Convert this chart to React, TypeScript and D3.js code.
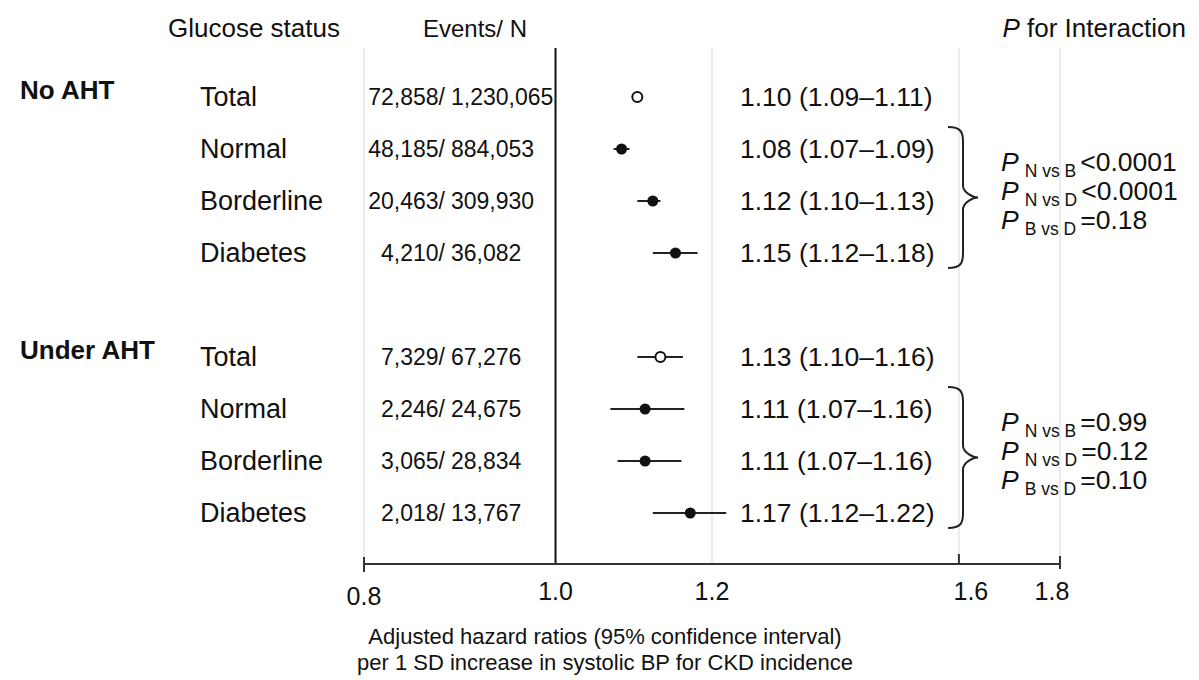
import React from "react";
import * as d3 from "d3";

const groupLabels = ["No AHT", "Under AHT"];
const statusLabels = ["Total", "Normal", "Borderline", "Diabetes"];
const events = [72858, 48185, 20463, 4210, 7329, 2246, 3065, 2018];
const totals = [1230065, 884053, 309930, 36082, 67276, 24675, 28834, 13767];
const hr = [1.1, 1.08, 1.12, 1.15, 1.13, 1.11, 1.11, 1.17];
const lo = [1.095, 1.07, 1.1, 1.12, 1.1, 1.066, 1.075, 1.12];
const hi = [1.105, 1.09, 1.13, 1.18, 1.16, 1.162, 1.158, 1.22];
const ciLabels = [
  "1.10 (1.09\u20131.11)",
  "1.08 (1.07\u20131.09)",
  "1.12 (1.10\u20131.13)",
  "1.15 (1.12\u20131.18)",
  "1.13 (1.10\u20131.16)",
  "1.11 (1.07\u20131.16)",
  "1.11 (1.07\u20131.16)",
  "1.17 (1.12\u20131.22)",
];
const pSubs = ["N vs B", "N vs D", "B vs D"];
const pValues = [
  ["<0.0001", "<0.0001", "=0.18"],
  ["=0.99", "=0.12", "=0.10"],
];
const xTicks = [0.8, 1.0, 1.2, 1.6, 1.8];
const gridTicks = [0.8, 1.2, 1.6, 1.8];

const FONT = "'Liberation Sans', Arial, Helvetica, sans-serif";

export default function App() {
  const W = 1199;
  const H = 680;
  const x = d3.scaleLog().domain([0.8, 1.8]).range([364, 1060]);
  const slots = d3.range(9);
  const y = d3.scalePoint<number>().domain(slots).range([97, 513]);
  const rowSlot = (i: number) => (i < 4 ? i : i + 1);
  const rowY = (i: number) => y(rowSlot(i)) as number;
  const axisY = 564;
  const topY = 48;
  const fmt = d3.format(",");
  const tickDx = (t: number) => (t === 1.6 ? 12 : t === 1.8 ? -8 : 0);

  const brace = (y0: number, y1: number) => {
    const x0 = 948, x1 = 963, xt = 978;
    const ym = (y0 + y1) / 2;
    return `M${x0},${y0} C${x1 - 2},${y0} ${x1},${y0 + 5} ${x1},${y0 + 15} L${x1},${ym - 12} C${x1},${ym - 5} ${xt - 5},${ym} ${xt},${ym} C${xt - 5},${ym} ${x1},${ym + 5} ${x1},${ym + 12} L${x1},${y1 - 15} C${x1},${y1 - 5} ${x1 - 2},${y1} ${x0},${y1}`;
  };

  return (
    <svg
      width={W}
      height={H}
      style={{ position: "absolute", left: 0, top: 0, background: "#fff" }}
      fontFamily={FONT}
    >
      <rect width={W} height={H} fill="#fff" />
      {gridTicks.map((t) => (
        <line key={t} x1={x(t)} x2={x(t)} y1={topY} y2={axisY} stroke="#e4e4e4" strokeWidth={1.5} />
      ))}
      <line x1={x(1)} x2={x(1)} y1={topY} y2={axisY} stroke="#111" strokeWidth={2} />

      <text x={168} y={37} fontSize={26} fill="#111">Glucose status</text>
      <text x={475} y={37} fontSize={24} fill="#111" textAnchor="middle">Events/ N</text>
      <text x={1186} y={37} fontSize={26} fill="#111" textAnchor="end">
        <tspan fontStyle="italic">P</tspan> for Interaction
      </text>

      {groupLabels.map((g, gi) => (
        <text key={g} x={20} y={rowY(gi * 4) + 2} fontSize={26} fontWeight="bold" fill="#111">{g}</text>
      ))}

      {hr.map((v, i) => {
        const yy = rowY(i);
        const open = i % 4 === 0;
        return (
          <g key={i}>
            <text x={200} y={yy + 9} fontSize={27} fill="#111">{statusLabels[i % 4]}</text>
            <text x={445} y={yy + 8} fontSize={23} fill="#111" textAnchor="end">{fmt(events[i])}/</text>
            <text x={451} y={yy + 8} fontSize={23} fill="#111">{fmt(totals[i])}</text>
            <line x1={x(lo[i])} x2={x(hi[i])} y1={yy} y2={yy} stroke="#222" strokeWidth={2} />
            {open ? (
              <circle cx={x(v)} cy={yy} r={5} fill="#fff" stroke="#111" strokeWidth={2} />
            ) : (
              <circle cx={x(v)} cy={yy} r={5.5} fill="#111" />
            )}
            <text x={740} y={yy + 9} fontSize={26.5} fill="#111">{ciLabels[i]}</text>
          </g>
        );
      })}

      {pValues.map((vals, gi) => {
        const yN = rowY(gi * 4 + 1);
        const yD = rowY(gi * 4 + 3);
        const y0 = yN - 22;
        const y1 = yD + 15;
        const ym = (y0 + y1) / 2;
        return (
          <g key={gi}>
            <path d={brace(y0, y1)} fill="none" stroke="#222" strokeWidth={2} />
            {vals.map((pv, k) => (
              <text key={k} x={1001} y={ym + 2 + (k - 1) * 29} fontSize={26.5} fill="#111">
                <tspan fontStyle="italic">P</tspan>
                <tspan dx={6} dy={6} fontSize={17.5}>{pSubs[k]}</tspan>
                <tspan dx={4} dy={-6}>{pv}</tspan>
              </text>
            ))}
          </g>
        );
      })}

      <line x1={x(0.8)} x2={x(1.8)} y1={axisY} y2={axisY} stroke="#333" strokeWidth={2} />
      <line x1={x(0.8)} x2={x(0.8)} y1={axisY - 7} y2={axisY + 8} stroke="#333" strokeWidth={2} />
      <line x1={x(1.6)} x2={x(1.6)} y1={axisY - 10} y2={axisY} stroke="#333" strokeWidth={2} />
      <line x1={x(1.8)} x2={x(1.8)} y1={axisY - 8} y2={axisY + 5} stroke="#333" strokeWidth={2} />
      {xTicks.map((t) => (
        <text key={t} x={x(t) + tickDx(t)} y={t === 0.8 ? 605 : 600} fontSize={25} fill="#111" textAnchor="middle">
          {d3.format(".1f")(t)}
        </text>
      ))}
      <text x={605} y={644} fontSize={22} fill="#111" textAnchor="middle">
        Adjusted hazard ratios (95% confidence interval)
      </text>
      <text x={605} y={670} fontSize={22} fill="#111" textAnchor="middle">
        per 1 SD increase in systolic BP for CKD incidence
      </text>
    </svg>
  );
}
